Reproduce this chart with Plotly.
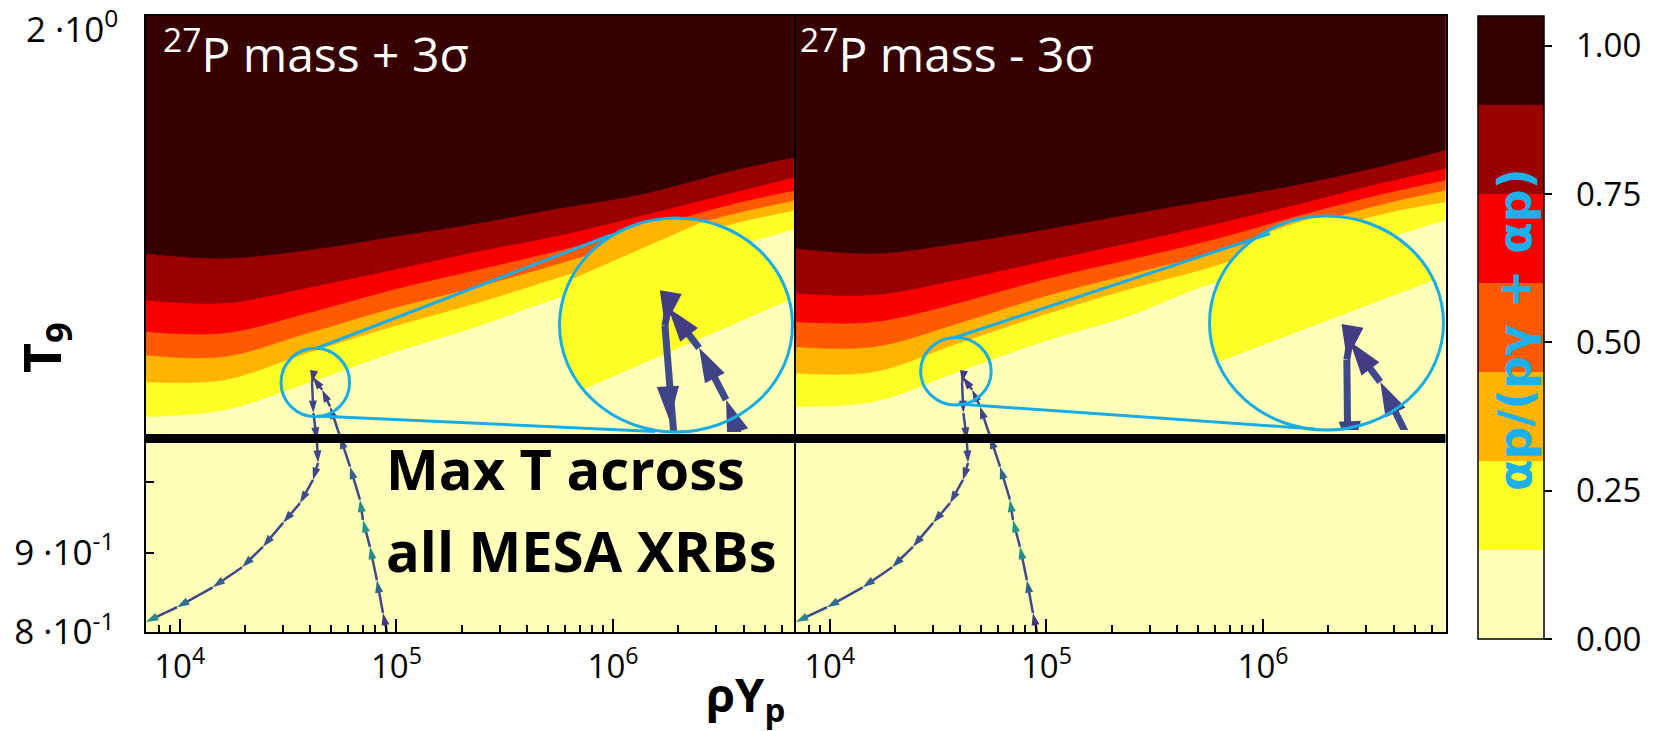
import numpy as np
import plotly.graph_objects as go

# ---------------------------------------------------------------- data
# density grid (rho*Yp) at which the contour boundaries were read
rho_grid = [6.9e3, 1.6e4, 3.9e4, 9.6e4, 2.35e5, 5.75e5, 1.4e6, 3.43e6, 7.0e6]

# contour levels of alpha-p/(p-gamma + alpha-p) and their fill colours
levels = [0.00, 0.15, 0.30, 0.45, 0.60, 0.75, 0.90, 1.05]
band_colors = ['#FFFFB9', '#FFFF28', '#FFB400', '#FF5A00', '#F90000', '#9A0000', '#360000']

# T9 of each level boundary, 27P mass + 3 sigma (left panel)
plus_015 = [1.102, 1.113, 1.159, 1.212, 1.260, 1.317, 1.364, 1.416, 1.458]
plus_030 = [1.161, 1.164, 1.212, 1.260, 1.305, 1.357, 1.410, 1.466, 1.499]
plus_045 = [1.208, 1.205, 1.248, 1.295, 1.337, 1.385, 1.438, 1.488, 1.521]
plus_060 = [1.251, 1.248, 1.286, 1.331, 1.371, 1.412, 1.459, 1.510, 1.544]
plus_075 = [1.311, 1.305, 1.335, 1.371, 1.409, 1.444, 1.488, 1.536, 1.575]
plus_090 = [1.405, 1.395, 1.412, 1.440, 1.469, 1.503, 1.536, 1.587, 1.622]

# T9 of each level boundary, 27P mass - 3 sigma (right panel)
minus_015 = [1.119, 1.127, 1.178, 1.232, 1.279, 1.343, 1.384, 1.433, 1.477]
minus_030 = [1.176, 1.178, 1.229, 1.282, 1.331, 1.377, 1.433, 1.488, 1.517]
minus_045 = [1.223, 1.223, 1.266, 1.317, 1.361, 1.405, 1.458, 1.510, 1.544]
minus_060 = [1.269, 1.269, 1.305, 1.351, 1.391, 1.433, 1.484, 1.533, 1.567]
minus_075 = [1.324, 1.321, 1.351, 1.388, 1.426, 1.466, 1.510, 1.559, 1.595]
minus_090 = [1.416, 1.405, 1.426, 1.455, 1.488, 1.521, 1.555, 1.598, 1.639]

# MESA XRB trajectory (heating branch up, then cooling branch down)
traj_rho = [9.05e4, 8.67e4, 8.13e4, 7.55e4, 7.01e4, 6.79e4, 6.11e4, 5.49e4, 4.94e4, 4.54e4, 4.12e4,
            4.08e4, 4.14e4, 4.29e4, 4.35e4, 4.12e4, 3.59e4, 3.00e4, 2.42e4, 1.94e4, 1.42e4, 9.71e3, 6.98e3]
traj_T9 = [0.800, 0.823, 0.864, 0.908, 0.945, 0.974, 1.023, 1.070, 1.119, 1.147, 1.169,
           1.159, 1.108, 1.065, 1.029, 1.003, 0.969, 0.941, 0.908, 0.881, 0.855, 0.830, 0.812]
traj_color = [0.10, 0.16, 0.32, 0.48, 0.52, 0.48, 0.32, 0.25, 0.20, 0.20, 0.18,
              0.18, 0.20, 0.20, 0.22, 0.22, 0.24, 0.24, 0.25, 0.27, 0.30, 0.36, 0.46]

T_max_xrb = 1.067
T_floor, T_ceiling = 0.78, 2.1

panel_titles = ['<sup>27</sup>P mass + 3σ', '<sup>27</sup>P mass - 3σ']
x_tickvals = [1e4, 1e5, 1e6]
x_ticktext = ['10<sup>4</sup>', '10<sup>5</sup>', '10<sup>6</sup>']
x_minorvals = [8e3, 9e3, 2e4, 3e4, 4e4, 5e4, 6e4, 7e4, 8e4, 9e4,
               2e5, 3e5, 4e5, 5e5, 6e5, 7e5, 8e5, 9e5, 2e6, 3e6, 4e6, 5e6, 6e6]
y_tickvals = [0.8, 0.9, 1.0, 2.0]
y_ticktext = ['8 ·10<sup>-1</sup>', '9 ·10<sup>-1</sup>', '', '']
y_top_label = '2 ·10<sup>0</sup>'          # label of the 2.0 tick (drawn at the top edge)
cbar_tickvals = [0.0, 0.25, 0.50, 0.75, 1.00]
cbar_ticktext = ['\u00a0\u00a00.00', '\u00a0\u00a00.25', '\u00a0\u00a00.50', '\u00a0\u00a00.75', '\u00a0\u00a01.00']

bounds_sets = [[plus_015, plus_030, plus_045, plus_060, plus_075, plus_090],
               [minus_015, minus_030, minus_045, minus_060, minus_075, minus_090]]

# ---------------------------------------------------------------- geometry (pixels)
W, H = 1657, 731
M_T, M_B = 16, 92
PH = H - M_T - M_B
PANELS = [(145.5, 795.5), (795.5, 1445.5)]
P_TOP, P_BOT = 16, 632
X_LOG = [3.842, 6.842]
Y_LOG = [np.log10(0.8) - 1e-6, np.log10(2.0) + 1e-6]

CYAN = '#1AACE4'
zoom_small = [(315.3, 382.5, 34.3, 34.2), (955.9, 371.2, 35.3, 33.8)]
zoom_big = [(676.0, 325.0, 116.5, 107.0), (1326.5, 323.0, 117.0, 107.0)]
tangents = [[(316, 348.5, 611, 235.0), (317, 416.0, 655, 431.5)],
            [(955, 337.5, 1270, 233.5), (958, 404.0, 1315, 429.0)]]
inset_yellow_arc = [(13.5, 217.0), (23.6, 201.5)]
inset_orange_arc = [(76.0, 155.0), (95.0, 125.0)]


def fx(x):
    return x / W


def fy(y):
    return (H - M_B - y) / PH


def px_to_log(p, xpix, ypix):
    x0, x1 = PANELS[p]
    xl = X_LOG[0] + (xpix - x0) / (x1 - x0) * (X_LOG[1] - X_LOG[0])
    yl = Y_LOG[1] - (ypix - P_TOP) / (P_BOT - P_TOP) * (Y_LOG[1] - Y_LOG[0])
    return xl, yl


fig = go.Figure()
n = len(rho_grid)
main_axes = [('x', 'y'), ('x2', 'y2')]
inset_axes = [('x3', 'y3'), ('x4', 'y4')]
nolegend = dict(showlegend=False, hoverinfo='skip')

for p in range(2):
    xa, ya = main_axes[p]
    bounds = bounds_sets[p]
    for k, col in enumerate(band_colors):
        lower = [T_floor] * n if k == 0 else bounds[k - 1]
        fig.add_trace(go.Scatter(x=rho_grid, y=[T_ceiling] * n, mode='lines',
                                 line=dict(width=0, color=col), xaxis=xa, yaxis=ya, **nolegend))
        fig.add_trace(go.Scatter(x=rho_grid, y=lower, mode='lines',
                                 line=dict(width=0.5, color=col, shape='spline', smoothing=1.0),
                                 fill='tonexty', fillcolor=col, xaxis=xa, yaxis=ya, **nolegend))
    fig.add_trace(go.Scatter(x=traj_rho, y=traj_T9, mode='lines+markers',
                             line=dict(color='#3E4A89', width=2.5),
                             marker=dict(symbol='arrow', angleref='previous', size=13,
                                         color=traj_color, colorscale='Viridis', cmin=0, cmax=1,
                                         line=dict(width=0)),
                             xaxis=xa, yaxis=ya, **nolegend))
    fig.add_trace(go.Scatter(x=[rho_grid[0], rho_grid[-1]], y=[T_max_xrb, T_max_xrb], mode='lines',
                             line=dict(color='black', width=9), xaxis=xa, yaxis=ya, **nolegend))

# colour bar (carried by an off-range dummy point)
cs = []
for k, col in enumerate(band_colors):
    cs.append([levels[k] / levels[-1], col])
    cs.append([levels[k + 1] / levels[-1], col])
fig.add_trace(go.Scatter(
    x=[1e3], y=[1.0], mode='markers', xaxis='x', yaxis='y', **nolegend,
    marker=dict(color=[0.5], colorscale=cs, cmin=levels[0], cmax=levels[-1], opacity=0, showscale=True,
                colorbar=dict(x=fx(1478), xanchor='left', xpad=0, y=0, yanchor='bottom', ypad=0,
                              len=1, lenmode='fraction', thickness=66, thicknessmode='pixels',
                              outlinewidth=1.5, outlinecolor='black',
                              tickmode='array', tickvals=cbar_tickvals, ticktext=cbar_ticktext,
                              ticks='outside', ticklen=8, tickwidth=1.5, tickcolor='black',
                              tickfont=dict(family='Open Sans', size=33, color='black')))))

# magnified insets
inset_ranges = []
for p in range(2):
    xa, ya = inset_axes[p]
    cx, cy, rx, ry = zoom_small[p]
    xl0, yl1 = px_to_log(p, cx - rx, cy - ry)
    xl1, yl0 = px_to_log(p, cx + rx, cy + ry)
    inset_ranges.append(([xl0, xl1], [yl0, yl1]))

    def ell(a0, a1, num):
        ph = np.radians(np.linspace(a0, a1, num))
        xd = 0.5 + 0.5 * np.cos(ph)
        yd = 0.5 + 0.5 * np.sin(ph)
        return 10 ** (xl0 + (xl1 - xl0) * xd), 10 ** (yl0 + (yl1 - yl0) * yd)

    ex, ey = ell(0, 360, 241)
    fig.add_trace(go.Scatter(x=ex, y=ey, mode='lines', fill='toself', fillcolor=band_colors[0],
                             line=dict(width=0), xaxis=xa, yaxis=ya, **nolegend))
    ax0, ax1 = inset_yellow_arc[p]
    ex, ey = ell(ax0, ax1, 120)
    fig.add_trace(go.Scatter(x=ex, y=ey, mode='lines', fill='toself', fillcolor=band_colors[1],
                             line=dict(width=0), xaxis=xa, yaxis=ya, **nolegend))
    ax0, ax1 = inset_orange_arc[p]
    ex, ey = ell(ax0, ax1, 80)
    fig.add_trace(go.Scatter(x=ex, y=ey, mode='lines', fill='toself', fillcolor=band_colors[2],
                             line=dict(width=0), xaxis=xa, yaxis=ya, **nolegend))
    fig.add_trace(go.Scatter(x=traj_rho, y=traj_T9, mode='lines+markers',
                             line=dict(color='#3E4A89', width=7),
                             marker=dict(symbol='arrow', angleref='previous', size=36,
                                         color=traj_color, colorscale='Viridis', cmin=0, cmax=1,
                                         line=dict(width=0)),
                             xaxis=xa, yaxis=ya, **nolegend))

# ---------------------------------------------------------------- axes
axis_font_x = dict(family='Open Sans', size=33, color='black')
axis_font_y = dict(family='Open Sans', size=35, color='black')
layout = dict(
    width=W, height=H, margin=dict(l=0, r=0, t=M_T, b=M_B, pad=0),
    paper_bgcolor='white', plot_bgcolor='rgba(0,0,0,0)', showlegend=False, hovermode=False,
    font=dict(family='Open Sans', color='black'),
)
for p in range(2):
    sx = '' if p == 0 else '2'
    x0, x1 = PANELS[p]
    layout['xaxis' + sx] = dict(
        type='log', range=X_LOG, domain=[fx(x0), fx(x1)], anchor='y' + sx,
        tickmode='array', tickvals=x_tickvals, ticktext=x_ticktext,
        ticks='inside', ticklen=13, tickwidth=1.5, tickcolor='black',
        minor=dict(tickmode='array', tickvals=x_minorvals, ticks='inside', ticklen=7,
                   tickwidth=1.5, tickcolor='black', showgrid=False),
        showline=True, linecolor='black', linewidth=2, mirror=True,
        showgrid=False, zeroline=False, tickfont=axis_font_x, ticklabelstandoff=4)
    layout['yaxis' + sx] = dict(
        type='log', range=Y_LOG, domain=[fy(P_BOT), fy(P_TOP)], anchor='x' + sx,
        tickmode='array', tickvals=y_tickvals, ticktext=y_ticktext,
        ticks='inside' if p == 0 else '', ticklen=8, tickwidth=1.5, tickcolor='black',
        showticklabels=(p == 0),
        showline=True, linecolor='black', linewidth=2, mirror=True,
        showgrid=False, zeroline=False, tickfont=axis_font_y, ticklabelstandoff=22)
for p in range(2):
    sx = str(p + 3)
    bx, by, brx, bry = zoom_big[p]
    xr, yr = inset_ranges[p]
    layout['xaxis' + sx] = dict(type='log', range=xr, domain=[fx(bx - brx), fx(bx + brx)],
                                anchor='y' + sx, visible=False)
    layout['yaxis' + sx] = dict(type='log', range=yr, domain=[fy(by + bry), fy(by - bry)],
                                anchor='x' + sx, visible=False)
fig.update_layout(**layout)

# ---------------------------------------------------------------- decorations
shapes = []
for p in range(2):
    for (cx, cy, rx, ry) in (zoom_small[p], zoom_big[p]):
        shapes.append(dict(type='circle', xref='paper', yref='paper', layer='above',
                           x0=fx(cx - rx), x1=fx(cx + rx), y0=fy(cy + ry), y1=fy(cy - ry),
                           line=dict(color=CYAN, width=3)))
    for (xa_, ya_, xb_, yb_) in tangents[p]:
        shapes.append(dict(type='line', xref='paper', yref='paper', layer='above',
                           x0=fx(xa_), y0=fy(ya_), x1=fx(xb_), y1=fy(yb_),
                           line=dict(color=CYAN, width=3)))
fig.update_layout(shapes=shapes)

ann = []
ann.append(dict(text=panel_titles[0], x=fx(161), y=fy(14), xanchor='left', yanchor='top',
                font=dict(family='Open Sans', size=48, color='white')))
ann.append(dict(text=panel_titles[1], x=fx(798), y=fy(14), xanchor='left', yanchor='top',
                font=dict(family='Open Sans', size=48, color='white')))
ann.append(dict(text=y_top_label, x=fx(120), y=fy(27), xanchor='right', yanchor='middle',
                font=axis_font_y))
ann.append(dict(text='<b>Max T across</b>', x=fx(384), y=fy(468), xanchor='left', yanchor='middle',
                font=dict(family='Open Sans', size=56, color='black')))
ann.append(dict(text='<b>all MESA XRBs</b>', x=fx(384), y=fy(550), xanchor='left', yanchor='middle',
                font=dict(family='Open Sans', size=56, color='black')))
ann.append(dict(text='<b>ρY<sub>p</sub></b>', x=fx(745), y=fy(697), xanchor='center', yanchor='middle',
                font=dict(family='Open Sans', size=47, color='black')))
ann.append(dict(text='<b>T<sub>9</sub></b>', x=fx(44), y=fy(348), xanchor='center', yanchor='middle',
                textangle=-90, font=dict(family='Open Sans', size=52, color='black')))
ann.append(dict(text='<b>αp/(pγ + αp)</b>', x=fx(1515), y=fy(330), xanchor='center', yanchor='middle',
                textangle=-90, font=dict(family='DejaVu Sans', size=46, color='#1DB0EA')))
for a in ann:
    a.update(xref='paper', yref='paper', showarrow=False)
fig.update_layout(annotations=ann)

fig.write_html('out.html')
